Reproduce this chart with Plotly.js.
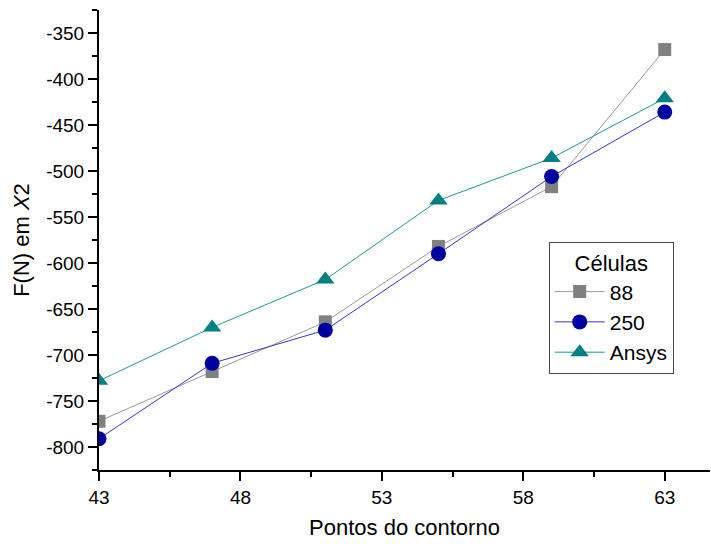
<!DOCTYPE html>
<html>
<head>
<meta charset="utf-8">
<script src="https://cdn.plot.ly/plotly-3.0.1.min.js"></script>
<style>html,body{margin:0;padding:0;background:#fff;}#chart{width:711px;height:544px;}</style>
</head>
<body>
<div id="chart"></div>
<script>
const pontos = [43, 47, 51, 55, 59, 63];
const celulas88 = [-772, -718, -664, -582, -517, -368];
const celulas250 = [-791, -709, -673, -590, -506, -436];
const ansys = [-728, -670, -618, -532, -486, -421];

const xTickVals = [43, 48, 53, 58, 63];
const xTickText = ['43', '48', '53', '58', '63'];
const yTickVals = [-800, -750, -700, -650, -600, -550, -500, -450, -400, -350];
const yTickText = ['-800', '-750', '-700', '-650', '-600', '-550', '-500', '-450', '-400', '-350'];

const font = 'Arial, "Liberation Sans", sans-serif';

const traces = [
  {
    x: pontos, y: celulas88, name: '88', type: 'scatter', mode: 'lines+markers',
    line: {color: '#9a9a9a', width: 1},
    marker: {symbol: 'square', size: 13, color: '#808080'}
  },
  {
    x: pontos, y: celulas250, name: '250', type: 'scatter', mode: 'lines+markers',
    line: {color: '#3636c8', width: 1},
    marker: {symbol: 'circle', size: 15, color: '#0000a0'}
  },
  {
    x: pontos, y: ansys, name: 'Ansys', type: 'scatter', mode: 'lines+markers',
    line: {color: '#1a9a9a', width: 1},
    marker: {symbol: 'triangle-up', size: 16, color: '#008080'}
  }
];

const layout = {
  width: 711, height: 544,
  margin: {l: 99, r: 1, t: 10, b: 74},
  paper_bgcolor: '#ffffff', plot_bgcolor: '#ffffff',
  font: {family: font, size: 19, color: '#000'},
  showlegend: true,
  legend: {
    x: 0.736, y: 0.496, xanchor: 'left', yanchor: 'top',
    bordercolor: '#444', borderwidth: 1, bgcolor: '#fff',
    font: {family: font, size: 21, color: '#000'},
    title: {text: 'Células', side: 'top center', font: {family: font, size: 22, color: '#000'}},
    tracegroupgap: 0, itemwidth: 50
  },
  xaxis: {
    range: [43, 64.6], showgrid: false, zeroline: false,
    showline: true, linecolor: '#000', linewidth: 2,
    ticks: 'outside', ticklen: 9, tickwidth: 2, tickcolor: '#000',
    tickvals: xTickVals, ticktext: xTickText,
    tickfont: {family: font, size: 19, color: '#000'},
    minor: {ticks: 'outside', ticklen: 5, tickwidth: 2, tickcolor: '#000', tick0: 45.5, dtick: 5},
    title: {text: 'Pontos do contorno', font: {family: font, size: 22, color: '#000'}, standoff: 13}
  },
  yaxis: {
    range: [-825, -325], showgrid: false, zeroline: false,
    showline: true, linecolor: '#000', linewidth: 2,
    ticks: 'outside', ticklen: 9, tickwidth: 2, tickcolor: '#000',
    tickvals: yTickVals, ticktext: yTickText,
    tickfont: {family: font, size: 19, color: '#000'},
    minor: {ticks: 'outside', ticklen: 5, tickwidth: 2, tickcolor: '#000', tick0: -825, dtick: 50},
    title: {text: 'F(N) em <i>X</i>2', font: {family: font, size: 22, color: '#000'}, standoff: 10}
  }
};

Plotly.newPlot('chart', traces, layout, {displayModeBar: false, staticPlot: true});
</script>
</body>
</html>
